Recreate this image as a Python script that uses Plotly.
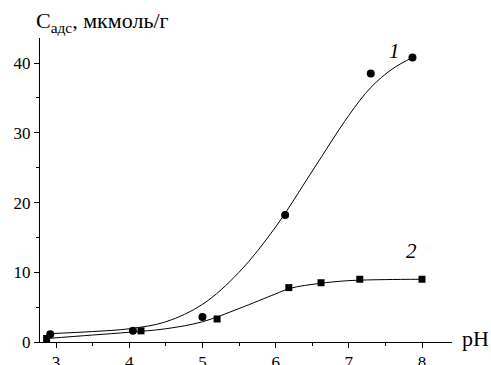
import plotly.graph_objects as go

# Experimental points
ph1 = [2.92, 4.05, 5.0, 6.13, 7.3, 7.87]
c1 = [1.1, 1.6, 3.6, 18.2, 38.5, 40.8]
ph2 = [2.87, 4.16, 5.2, 6.18, 6.62, 7.15, 8.0]
c2 = [0.5, 1.6, 3.3, 7.8, 8.5, 9.0, 9.0]

# Fitted curves
fit1_x = [2.92, 3.5, 4.0, 4.5, 5.0, 5.5, 6.0, 6.5, 7.0, 7.3, 7.6, 7.87]
fit1_y = [1.2, 1.5, 1.9, 2.9, 5.4, 10.0, 16.5, 24.5, 32.5, 36.5, 39.2, 40.8]
fit2_x = [2.87, 3.5, 4.0, 4.5, 5.0, 5.5, 6.0, 6.2, 6.6, 7.0, 7.5, 8.0]
fit2_y = [0.5, 1.0, 1.4, 1.9, 2.9, 4.8, 6.9, 7.7, 8.4, 8.8, 8.95, 9.0]

x_ticks = [3, 4, 5, 6, 7, 8]
y_ticks = [0, 10, 20, 30, 40]

FONT = "'Liberation Serif', 'Times New Roman', serif"

fig = go.Figure()
fig.add_trace(go.Scatter(x=fit1_x, y=fit1_y, mode="lines",
                         line=dict(color="black", width=1, shape="spline"), hoverinfo="skip"))
fig.add_trace(go.Scatter(x=fit2_x, y=fit2_y, mode="lines",
                         line=dict(color="black", width=1, shape="spline"), hoverinfo="skip"))
fig.add_trace(go.Scatter(x=ph1, y=c1, mode="markers",
                         marker=dict(symbol="circle", size=8, color="black")))
fig.add_trace(go.Scatter(x=ph2, y=c2, mode="markers",
                         marker=dict(symbol="square", size=7, color="black")))

fig.update_layout(
    width=491, height=365,
    margin=dict(l=40, r=39, t=38, b=23, autoexpand=False),
    paper_bgcolor="white", plot_bgcolor="white",
    showlegend=False,
    font=dict(family=FONT, size=17, color="black"),
    xaxis=dict(range=[2.78, 8.41], tickvals=x_ticks, ticks="outside", ticklen=5,
               tickwidth=1, tickcolor="black", showline=True, linecolor="black",
               linewidth=1, showgrid=False, zeroline=False, automargin=False,
               minor=dict(dtick=0.5, tick0=0, ticks="outside", ticklen=3,
                          tickcolor="black", showgrid=False),
               tickfont=dict(family=FONT, size=17)),
    yaxis=dict(range=[0, 43.6], tickvals=y_ticks, ticks="outside", ticklen=5,
               tickwidth=1, tickcolor="black", showline=True, linecolor="black",
               linewidth=1, showgrid=False, zeroline=False, automargin=False,
               minor=dict(dtick=5, tick0=0, ticks="outside", ticklen=3,
                          tickcolor="black", showgrid=False),
               tickfont=dict(family=FONT, size=17)),
)

fig.add_annotation(xref="paper", yref="paper", x=1.0, y=0, xanchor="left", yanchor="middle",
                   xshift=8, yshift=4,
                   text="pH", showarrow=False, font=dict(family=FONT, size=22))
fig.add_annotation(xref="paper", yref="paper", x=-0.015, y=1.0, xanchor="left", yanchor="bottom",
                   yshift=0,
                   text="C<sub>адс</sub>, мкмоль/г", showarrow=False,
                   font=dict(family=FONT, size=22))
fig.add_annotation(x=7.62, y=41.8, text="<i>1</i>", showarrow=False,
                   font=dict(family=FONT, size=21))
fig.add_annotation(x=7.85, y=13.1, text="<i>2</i>", showarrow=False,
                   font=dict(family=FONT, size=21))

fig.write_html("out.html")
